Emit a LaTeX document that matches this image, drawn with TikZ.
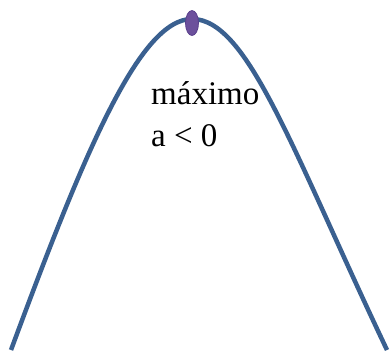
\documentclass[tikz,border=0pt]{standalone}
\usepackage{fontspec}
\setmainfont{Liberation Serif}
\usetikzlibrary{shapes.geometric}
\definecolor{curveblue}{RGB}{58,96,144}
\definecolor{dotpurple}{RGB}{108,80,156}
\definecolor{dotedge}{RGB}{90,64,140}
\begin{document}
\begin{tikzpicture}[x=1pt,y=-1pt,
  curve/.style={draw=curveblue,line width=4.5pt},
  label/.style={anchor=base west,inner sep=0pt,font=\fontsize{33}{40}\selectfont},
  topdot/.style={ellipse,draw=dotedge,fill=dotpurple,line width=0.8pt,minimum width=13pt,minimum height=25pt,inner sep=0pt}]
\useasboundingbox (0,0) rectangle (390,354);
\coordinate (left) at (11,350);
\coordinate (top) at (192,19);
\coordinate (right) at (387,350);
\draw[curve] (left) .. controls (85,150) and (140,19) .. (top)
  .. controls (248,19) and (292,150) .. (right);
\node[topdot] (peak) at (192,23) {};
\node[label] (max) at (151,104) {máximo};
\node[label] (cond) at (151,146) {a < 0};
\end{tikzpicture}
\end{document}
